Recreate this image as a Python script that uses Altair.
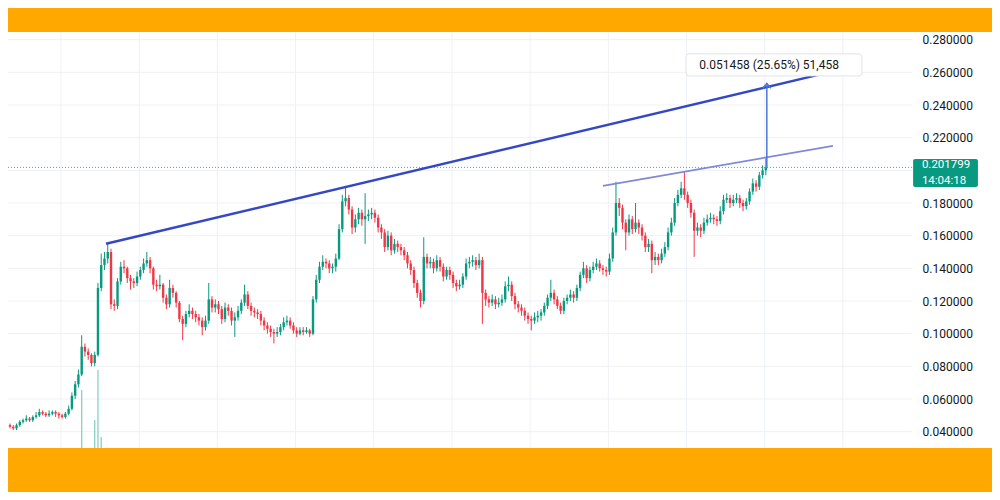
import altair as alt
import pandas as pd

# ---------------- data ----------------
first_open = 0.044
close = [
    .043, .042, .044, .046, .047, .048, .047, .049, .050, .052,
    .051, .050, .051, .052, .051, .050, .049, .051, .054, .062,
    .069, .075, .092, .089, .087, .082, .087, .128, .142, .146,
    .150, .118, .117, .132, .141, .140, .134, .132, .131, .135,
    .139, .143, .145, .140, .130, .129, .130, .122, .118, .128,
    .125, .119, .109, .106, .112, .114, .112, .110, .108, .104,
    .108, .121, .116, .118, .115, .109, .116, .114, .108, .110,
    .114, .119, .124, .117, .114, .113, .112, .108, .105, .103,
    .101, .100, .101, .104, .107, .108, .105, .102, .100, .102,
    .101, .102, .100, .121, .133, .141, .144, .143, .140, .141,
    .146, .164, .181, .183, .176, .165, .170, .174, .170, .172,
    .173, .174, .171, .165, .162, .153, .160, .151, .155, .153,
    .151, .148, .143, .139, .131, .125, .120, .147, .143, .144,
    .140, .145, .141, .135, .139, .136, .131, .129, .130, .135,
    .143, .144, .145, .142, .145, .125, .121, .119, .121, .118,
    .119, .121, .129, .130, .123, .118, .116, .114, .111, .109,
    .108, .110, .111, .113, .117, .122, .125, .121, .117, .114,
    .120, .122, .124, .122, .128, .136, .140, .134, .139, .141,
    .143, .140, .139, .138, .146, .162, .180, .177, .168, .162,
    .170, .164, .168, .165, .160, .153, .155, .145, .147, .145,
    .149, .153, .162, .168, .180, .185, .189, .185, .180, .174,
    .163, .165, .163, .168, .170, .171, .170, .169, .175, .182,
    .183, .180, .182, .183, .180, .178, .181, .187, .192, .190,
    .197, .200, .201799,
]
high = [
    .045, .044, .045, .047, .048, .050, .049, .050, .052, .054,
    .053, .052, .053, .053, .053, .052, .051, .052, .056, .064,
    .071, .078, .099, .094, .091, .088, .089, .131, .149, .150,
    .155, .152, .121, .134, .144, .145, .141, .136, .134, .138,
    .141, .146, .150, .147, .141, .133, .136, .131, .124, .133,
    .130, .126, .120, .111, .114, .118, .116, .114, .112, .110,
    .111, .131, .123, .121, .120, .117, .119, .118, .116, .113,
    .117, .121, .130, .126, .119, .116, .115, .114, .110, .107,
    .105, .103, .104, .106, .110, .111, .110, .107, .104, .104,
    .104, .104, .103, .123, .136, .144, .148, .146, .145, .143,
    .149, .167, .185, .190, .185, .178, .173, .177, .176, .186,
    .176, .177, .176, .173, .167, .164, .163, .162, .158, .157,
    .155, .153, .150, .145, .141, .133, .127, .159, .149, .147,
    .146, .148, .147, .143, .141, .141, .138, .133, .133, .137,
    .146, .147, .148, .147, .149, .147, .127, .123, .124, .123,
    .122, .124, .132, .135, .132, .125, .120, .118, .116, .113,
    .111, .113, .114, .115, .119, .124, .133, .127, .123, .119,
    .122, .124, .127, .126, .130, .138, .144, .142, .141, .144,
    .146, .145, .142, .141, .149, .165, .193, .183, .179, .170,
    .173, .172, .180, .170, .167, .162, .158, .157, .150, .149,
    .152, .156, .165, .171, .183, .188, .193, .199, .187, .182,
    .176, .168, .167, .171, .173, .174, .173, .172, .178, .185,
    .186, .185, .185, .186, .185, .182, .183, .189, .195, .194,
    .199, .203, .2075,
]
low = [
    .042, .041, .041, .043, .045, .046, .046, .046, .048, .049,
    .050, .049, .049, .050, .049, .048, .048, .048, .050, .053,
    .060, .067, .074, .086, .084, .080, .080, .086, .126, .139,
    .143, .115, .114, .115, .130, .137, .131, .127, .128, .129,
    .133, .137, .141, .137, .127, .126, .127, .119, .115, .116,
    .122, .116, .107, .096, .104, .110, .109, .107, .105, .099,
    .102, .106, .113, .113, .112, .106, .107, .111, .105, .098,
    .108, .112, .117, .115, .111, .110, .109, .105, .102, .100,
    .098, .094, .098, .099, .102, .105, .103, .100, .098, .099,
    .099, .100, .098, .099, .119, .131, .139, .140, .137, .137,
    .138, .145, .162, .178, .173, .161, .162, .167, .166, .155,
    .169, .170, .168, .162, .158, .150, .151, .148, .149, .150,
    .148, .145, .140, .136, .128, .122, .116, .118, .140, .140,
    .137, .138, .138, .132, .133, .133, .128, .126, .127, .128,
    .133, .140, .141, .139, .140, .106, .117, .116, .117, .115,
    .116, .117, .119, .126, .120, .115, .113, .111, .108, .106,
    .102, .106, .107, .108, .111, .115, .120, .118, .115, .112,
    .112, .118, .120, .119, .120, .126, .134, .131, .132, .137,
    .139, .138, .136, .135, .136, .144, .160, .172, .164, .151,
    .160, .161, .162, .161, .157, .150, .150, .137, .142, .142,
    .143, .147, .151, .160, .166, .178, .183, .182, .177, .171,
    .147, .160, .159, .161, .166, .168, .167, .166, .167, .173,
    .180, .177, .178, .180, .177, .175, .176, .179, .185, .187,
    .188, .195, .197,
]

# volume bars: only these spikes reach above the bottom band
vol_idx = [22, 26, 27, 28]
vol_bar_top = [0.0655, 0.0471, 0.0778, 0.0367]

# price axis
price_levels = [0.04, 0.06, 0.08, 0.10, 0.12, 0.14, 0.16, 0.18, 0.20,
                0.22, 0.24, 0.26, 0.28]
axis_labels = [0.04, 0.06, 0.08, 0.10, 0.12, 0.14, 0.16, 0.18,
               0.22, 0.24, 0.26, 0.28]
vgrid_idx = [15.65, 39.65, 63.65, 87.65, 111.65, 135.65, 159.65,
             183.65, 207.65, 231.65, 255.65]

# drawings
thick_i = [29.47, 253.2]
thick_p = [0.155, 0.2609]
thin_i = [182.0, 252.6]
thin_p = [0.1905, 0.2150]
last_price = 0.201799
measure_delta = 0.051458
measure_text = "0.051458 (25.65%) 51,458"
price_time = "14:04:18"

# ---------------- styling ----------------
GREEN = "#089981"
RED = "#f23645"
ORANGE = "#ffa900"
X_DOMAIN = [-0.614, 276.86]
Y_DOMAIN = [0.0300, 0.2847]
X_FAR = 306.0
GRID_END = 277.0
Y_TOP_OUT = 0.3050
Y_BOTTOM_OUT = -0.0100

xs = alt.Scale(domain=X_DOMAIN, nice=False, zero=False)
ys = alt.Scale(domain=Y_DOMAIN, nice=False, zero=False)

PRICE_AXIS = alt.Axis(
    values=axis_labels, format=".6f", orient="right",
    labelPadding=10, ticks=False, domain=False, grid=False,
    labelFont="Roboto", labelFontSize=12, labelColor="#131722", title=None)


def X(field):
    return alt.X(field, scale=xs, axis=None)


def Y(field):
    return alt.Y(field, scale=ys, axis=PRICE_AXIS, title=None)


n = len(close)
opens = [first_open] + close[:-1]
candles = pd.DataFrame({
    "i": list(range(n)), "open": opens, "close": close,
    "high": high, "low": low,
    "dir": ["up" if c >= o else "down" for o, c in zip(opens, close)],
})
color = alt.Color("dir:N", scale=alt.Scale(domain=["up", "down"], range=[GREEN, RED]),
                  legend=None)

# grid lines
hgrid_df = pd.DataFrame({"level": price_levels,
                         "xa": [X_DOMAIN[0]] * len(price_levels),
                         "xb": [GRID_END] * len(price_levels)})
hgrid = alt.Chart(hgrid_df).mark_rule(color="#eef1f6", strokeWidth=1).encode(
    x=X("xa:Q"), x2="xb:Q", y=Y("level:Q"))
vgrid_df = pd.DataFrame({"gi": vgrid_idx,
                         "ya": [Y_DOMAIN[0]] * len(vgrid_idx),
                         "yb": [Y_DOMAIN[1]] * len(vgrid_idx)})
vgrid = alt.Chart(vgrid_df).mark_rule(color="#eef1f6", strokeWidth=1).encode(
    x=X("gi:Q"), y=Y("ya:Q"), y2="yb:Q")

# volume spikes
vol_df = pd.DataFrame({"i": vol_idx, "top": vol_bar_top,
                       "bottom": [Y_BOTTOM_OUT] * len(vol_idx)})
volume = alt.Chart(vol_df).mark_rule(color="#8ccfc3", strokeWidth=1.3).encode(
    x=X("i:Q"), y=Y("bottom:Q"), y2="top:Q")

# last price dotted line
pl_df = pd.DataFrame({"p": [last_price], "xa": [X_DOMAIN[0]], "xb": [277.2]})
price_line = alt.Chart(pl_df).mark_rule(color=GREEN, strokeDash=[1, 2], strokeWidth=1,
                                        opacity=0.8).encode(
    x=X("xa:Q"), x2="xb:Q", y=Y("p:Q"))

base = alt.Chart(candles)
wicks = base.mark_rule(strokeWidth=1).encode(
    x=X("i:Q"), y=Y("low:Q"), y2="high:Q", color=color)
bodies = base.mark_rule(strokeWidth=2.4).encode(
    x=X("i:Q"), y=Y("open:Q"), y2="close:Q", color=color)

thick = alt.Chart(pd.DataFrame({"i": thick_i, "p": thick_p})).mark_line(
    color="#3448c5", strokeWidth=2.5).encode(x=X("i:Q"), y=Y("p:Q"))
thin = alt.Chart(pd.DataFrame({"i": thin_i, "p": thin_p})).mark_line(
    color="#8088d8", strokeWidth=1.6).encode(x=X("i:Q"), y=Y("p:Q"))

arrow_df = pd.DataFrame({"i": [232.3], "p0": [last_price],
                         "p1": [last_price + measure_delta]})
arrow = alt.Chart(arrow_df).mark_rule(color="#4d74dd", strokeWidth=1.5).encode(
    x=X("i:Q"), y=Y("p0:Q"), y2="p1:Q")
arrow_head = alt.Chart(arrow_df).mark_point(
    shape="M-1,1.2L0,0L1,1.2", filled=False, size=64, strokeWidth=1.5,
    color="#4d74dd", opacity=1).encode(x=X("i:Q"), y=Y("p1:Q"))

box_df = pd.DataFrame({"xa": [207.5], "xb": [261.5], "ya": [0.2578], "yb": [0.2713],
                       "xt": [233.0], "yt": [0.2646], "t": [measure_text]})
box = alt.Chart(box_df).mark_rect(fill="white", stroke="#dfe2ea", strokeWidth=1,
                                  cornerRadius=3).encode(
    x=X("xa:Q"), x2="xb:Q", y=Y("ya:Q"), y2="yb:Q")
box_text = alt.Chart(box_df).mark_text(font="Roboto", fontSize=12, color="#131722",
                                       align="center", baseline="middle").encode(
    x=X("xt:Q"), y=Y("yt:Q"), text="t:N")

tag_df = pd.DataFrame({"xa": [277.2], "xb": [297.1], "ya": [0.1898], "yb": [0.2070]})
tag = alt.Chart(tag_df).mark_rect(fill=GREEN, cornerRadius=2).encode(
    x=X("xa:Q"), x2="xb:Q", y=Y("ya:Q"), y2="yb:Q")
tag_txt_df = pd.DataFrame({"x": [279.9, 279.9], "y": [0.2031, 0.1937],
                           "t": [f"{last_price:.6f}", price_time]})
tag_text = alt.Chart(tag_txt_df).mark_text(font="Roboto", fontSize=11.5, color="white",
                                           align="left", baseline="middle").encode(
    x=X("x:Q"), y=Y("y:Q"), text="t:N")

# orange frame bands above and below the chart pane
band_df = pd.DataFrame({"xa": [X_DOMAIN[0], X_DOMAIN[0]], "xb": [X_FAR, X_FAR],
                        "ya": [Y_DOMAIN[1], Y_BOTTOM_OUT], "yb": [Y_TOP_OUT, Y_DOMAIN[0]]})
bands = alt.Chart(band_df).mark_rect(fill=ORANGE).encode(
    x=X("xa:Q"), x2="xb:Q", y=Y("ya:Q"), y2="yb:Q")

chart = alt.layer(hgrid, vgrid, volume, price_line, wicks, bodies, thick, thin,
                  arrow, arrow_head, box, box_text, tag, tag_text, bands).properties(
    width=904, height=416,
    autosize=alt.AutoSizeParams(type="none"),
    padding={"top": 24, "bottom": 44, "left": 0, "right": 80},
    background="white",
).configure_view(strokeWidth=0)

chart.save("out.html", embed_options={"renderer": "svg", "actions": False})
